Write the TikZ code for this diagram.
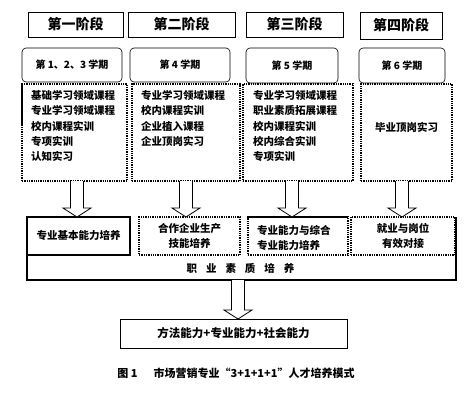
\documentclass[tikz,border=0pt]{standalone}
\usepackage{fontspec}
\newfontfamily\cjk{Noto Sans CJK SC}
\usetikzlibrary{calc}
\newcommand\fs[1]{\fontsize{#1}{#1}\selectfont}
\newcommand\blockarr[3]{%
  \draw[barrow] let \p1=(#1.south), \p2=(#2.north) in
   ({\x1+(#3pt)-6.5pt},\y1) -- ({\x1+(#3pt)-6.5pt},\y2+9pt) -- ({\x1+(#3pt)-14pt},\y2+9pt)
   -- ({\x1+(#3pt)},\y2) -- ({\x1+(#3pt)+14pt},\y2+9pt) -- ({\x1+(#3pt)+6.5pt},\y2+9pt)
   -- ({\x1+(#3pt)+6.5pt},\y1);}
\begin{document}
\begin{tikzpicture}[x=1pt,y=-1pt,
  every node/.style={inner sep=0pt,outer sep=0pt},
  stage/.style={draw,line width=0.8pt,font=\cjk\bfseries\fs{14}},
  sem/.style={draw,line width=0.6pt,rounded corners=4pt,font=\cjk\bfseries\fs{10}},
  content/.style={draw,densely dotted,line width=1.3pt},
  list/.style={anchor=north west,align=left,font=\cjk\bfseries\fontsize{10.5}{15.3}\selectfont},
  res/.style={line width=1.3pt,font=\cjk\bfseries\fontsize{10.5}{15}\selectfont,align=center},
  resdot/.style={res,draw,densely dotted},
  ressolid/.style={res,draw},
  barrow/.style={draw,fill=white,line width=0.8pt,line join=miter},
]
\useasboundingbox (0,0) rectangle (476,400);

% stages
\node[stage,minimum width=95pt,minimum height=25pt] (s1) at (75.5,24.5) {第一阶段};
\node[stage,minimum width=107pt,minimum height=25pt] (s2) at (181.5,24.5) {第二阶段};
\node[stage,minimum width=97pt,minimum height=25pt] (s3) at (294.5,24.5) {第三阶段};
\node[stage,minimum width=82pt,minimum height=27pt] (s4) at (401,25.5) {第四阶段};

% semesters
\node[sem,minimum width=100pt,minimum height=34pt] (m1) at (72,65) {第 1、2、3 学期};
\node[sem,minimum width=100pt,minimum height=34pt] (m2) at (180,65) {第 4 学期};
\node[sem,minimum width=92pt,minimum height=35pt] (m3) at (292,65.5) {第 5 学期};
\node[sem,minimum width=86pt,minimum height=35pt] (m4) at (402,65.5) {第 6 学期};

% content boxes
\node[content,minimum width=105pt,minimum height=97pt] (c1) at (74.5,132.5) {};
\node[content,minimum width=108pt,minimum height=97pt] (c2) at (186,132.5) {};
\node[content,minimum width=110pt,minimum height=97pt] (c3) at (298,132.5) {};
\node[content,minimum width=91pt,minimum height=97pt] (c4) at (406.5,132.5) {};
\draw[line width=1.3pt] (c1.north west) -- ($(c1.north west)+(0,40)$);

\node[list] (l1) at (31,90.5) {基础学习领域课程\\专业学习领域课程\\校内课程实训\\专项实训\\认知实习};
\node[list] (l2) at (141,90.5) {专业学习领域课程\\校内课程实训\\企业植入课程\\企业顶岗实习};
\node[list] (l3) at (253,90.5) {专业学习领域课程\\职业素质拓展课程\\校内课程实训\\校内综合实训\\专项实训};
\node[font=\cjk\bfseries\fs{10.5}] (l4) at (406.5,127) {毕业顶岗实习};

% big box
\node[minimum width=429pt,minimum height=63pt] (big) at (241.5,248.5) {};
\draw[line width=1.3pt] (big.north west) -- (big.south west) -- (big.south east) -- (big.north east);
\node[font=\cjk\bfseries\fs{10.5}] (qual) at (240.5,268) {职\hspace{9pt}业\hspace{9pt}素\hspace{9pt}质\hspace{9pt}培\hspace{9pt}养};

% result boxes
\node[ressolid,minimum width=103pt,minimum height=38pt] (r1) at (78.5,236) {专业基本能力培养};
\node[resdot,minimum width=101pt,minimum height=38pt] (r2) at (189.5,236) {合作企业生产\\技能培养};
\node[resdot,minimum width=100pt,minimum height=38pt] (r3) at (298,236) {};
\draw[line width=1.3pt] (r3.north west) -- (r3.north east);
\node[res,anchor=west,align=left] (r3t) at (257,238) {专业能力与综合\\专业能力培养};
\node[resdot,minimum width=104pt,minimum height=38pt] (r4) at (403,236) {就业与岗位\\有效对接};

% arrows
\blockarr{c1}{r1}{2.5}
\blockarr{c2}{r2}{0}
\blockarr{c3}{r3}{-6}
\blockarr{c4}{r4}{-4.5}

% final
\node[draw,line width=0.8pt,minimum width=227pt,minimum height=29pt,font=\cjk\bfseries\fs{11.5}] (fin) at (233.5,333.5) {方法能力+专业能力+社会能力};
\blockarr{big}{fin}{-3.5}

% caption
\node[font=\cjk\bfseries\fs{11}] (cap) at (236,373) {图 1\hspace{16pt}市场营销专业“3+1+1+1”人才培养模式};
\end{tikzpicture}
\end{document}
